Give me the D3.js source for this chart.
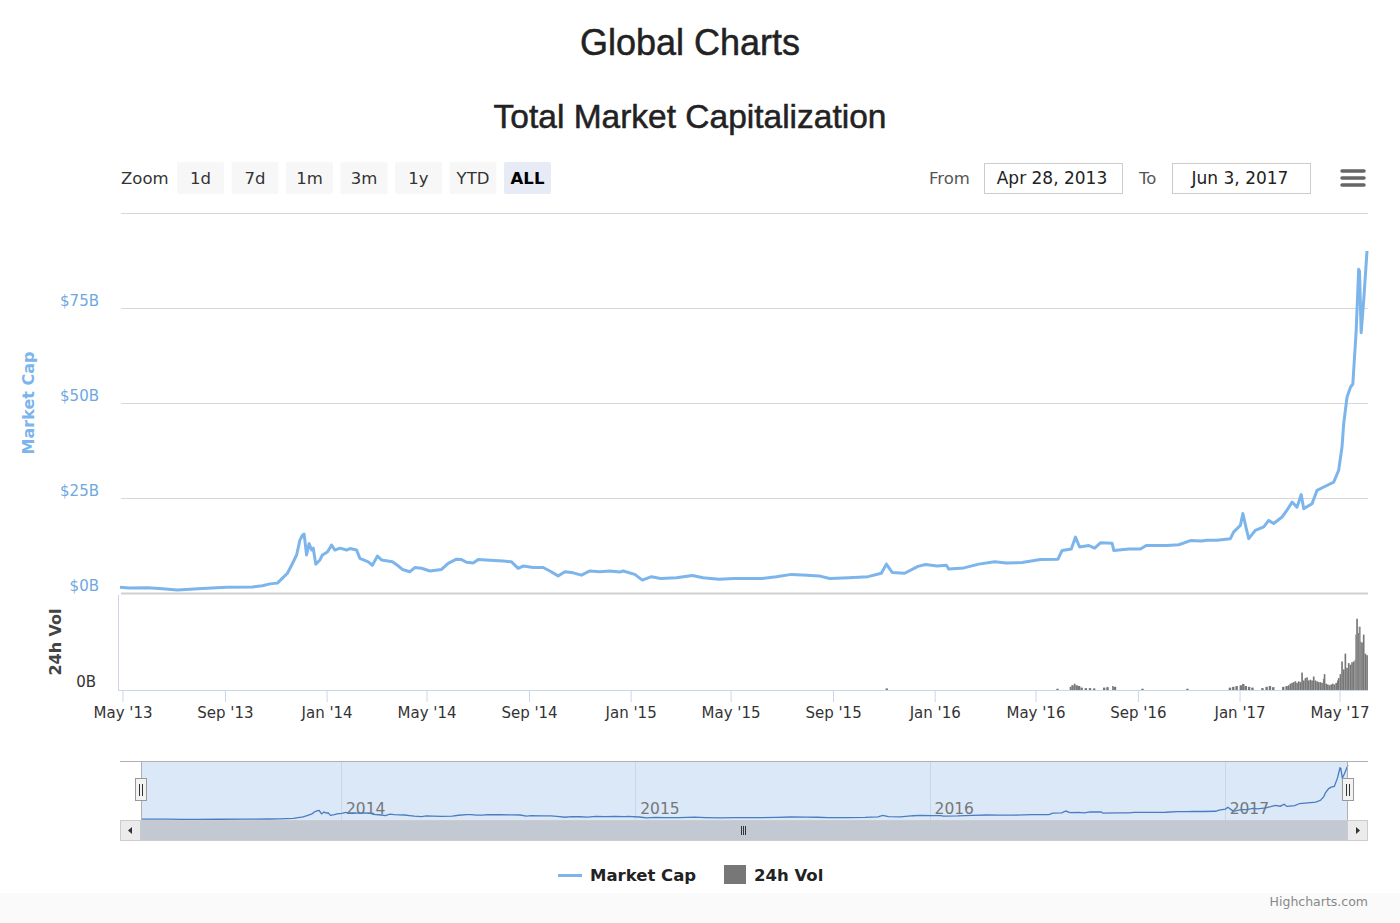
<!DOCTYPE html>
<meta charset="utf-8">
<style>
    body { margin: 0; background: #fff; }
    svg { display: block; font-family: "DejaVu Sans", Verdana, sans-serif; }
</style>

<svg width="1400" height="923"></svg>

<script src="https://d3js.org/d3.v7.min.js"></script>
<script>
    // market cap, billions USD
    var capDates = [
        "2013-04-28", "2013-05-09", "2013-05-31", "2013-06-18", "2013-07-06", "2013-08-05", "2013-09-03",
        "2013-10-04", "2013-10-16", "2013-10-25", "2013-11-03", "2013-11-09", "2013-11-15", "2013-11-20",
        "2013-11-26", "2013-11-30", "2013-12-03", "2013-12-05", "2013-12-08", "2013-12-11", "2013-12-14",
        "2013-12-16", "2013-12-19", "2013-12-24", "2013-12-27", "2014-01-02", "2014-01-07", "2014-01-11",
        "2014-01-17", "2014-01-25", "2014-01-29", "2014-02-06", "2014-02-10", "2014-02-20", "2014-02-25",
        "2014-03-03", "2014-03-08", "2014-03-21", "2014-03-27", "2014-04-02", "2014-04-11", "2014-04-17",
        "2014-04-25", "2014-05-05", "2014-05-19", "2014-05-27", "2014-06-06", "2014-06-12", "2014-06-18",
        "2014-06-26", "2014-07-02", "2014-07-16", "2014-08-01", "2014-08-11", "2014-08-19", "2014-08-25",
        "2014-09-06", "2014-09-18", "2014-09-26", "2014-10-06", "2014-10-14", "2014-10-24", "2014-11-03",
        "2014-11-13", "2014-11-25", "2014-12-07", "2014-12-19", "2014-12-23", "2015-01-06", "2015-01-15",
        "2015-01-26", "2015-02-06", "2015-02-25", "2015-03-16", "2015-03-29", "2015-04-17", "2015-05-05",
        "2015-06-07", "2015-06-25", "2015-07-13", "2015-08-01", "2015-08-15", "2015-08-28", "2015-09-20",
        "2015-10-13", "2015-10-29", "2015-11-04", "2015-11-11", "2015-11-26", "2015-12-12", "2015-12-21",
        "2016-01-04", "2016-01-15", "2016-01-18", "2016-02-05", "2016-02-23", "2016-03-13", "2016-03-27",
        "2016-04-15", "2016-05-07", "2016-05-28", "2016-06-02", "2016-06-13", "2016-06-18", "2016-06-23",
        "2016-07-04", "2016-07-11", "2016-07-18", "2016-08-01", "2016-08-03", "2016-08-21", "2016-09-04",
        "2016-09-11", "2016-10-06", "2016-10-20", "2016-11-03", "2016-11-16", "2016-11-23", "2016-12-05",
        "2016-12-21", "2016-12-25", "2017-01-02", "2017-01-05", "2017-01-09", "2017-01-12", "2017-01-20",
        "2017-01-30", "2017-02-05", "2017-02-11", "2017-02-21", "2017-02-27", "2017-03-05", "2017-03-11",
        "2017-03-16", "2017-03-19", "2017-03-29", "2017-04-04", "2017-04-14", "2017-04-24", "2017-04-30",
        "2017-05-04", "2017-05-06", "2017-05-10", "2017-05-14", "2017-05-17", "2017-05-21", "2017-05-24",
        "2017-05-25", "2017-05-27", "2017-05-30", "2017-06-03"
    ];
    var capValues = [
        1.5, 1.3, 1.4, 1.1, 0.8, 1.2, 1.5,
        1.6, 1.9, 2.4, 2.6, 3.9, 5.2, 7.3,
        10.0, 13.9, 15.2, 15.5, 10.0, 13.0, 11.3,
        11.8, 7.6, 8.7, 10.0, 10.8, 12.6, 11.3,
        11.8, 11.3, 11.7, 11.3, 9.1, 8.2, 7.3,
        9.7, 8.7, 8.2, 7.3, 6.2, 5.6, 6.7,
        6.5, 5.8, 6.2, 7.8, 8.9, 8.8, 8.1,
        7.9, 8.8, 8.6, 8.4, 8.2, 6.5, 7.1,
        6.7, 6.7, 5.8, 4.5, 5.6, 5.3, 4.7,
        5.8, 5.6, 5.8, 5.5, 5.8, 4.9, 3.4,
        4.3, 3.8, 4.0, 4.6, 4.0, 3.6, 3.8,
        3.8, 4.3, 4.9, 4.7, 4.5, 3.8, 4.0,
        4.3, 5.2, 7.6, 5.4, 5.2, 7.0, 7.5,
        7.1, 7.3, 6.3, 6.6, 7.6, 8.2, 7.9,
        8.0, 8.8, 8.9, 11.2, 11.6, 14.7, 12.1,
        12.5, 11.8, 13.2, 13.1, 11.2, 11.6, 11.6,
        12.5, 12.5, 12.7, 13.8, 13.7, 13.9, 13.9,
        14.3, 16.1, 17.8, 20.9, 17.0, 14.3, 16.5,
        17.4, 19.1, 18.3, 20.0, 21.8, 23.9, 22.6,
        25.9, 22.2, 23.5, 27.0, 28.1, 29.2, 32.3,
        38.4, 44.5, 51.5, 54.1, 55.0, 69.0, 85.2,
        84.7, 68.5, 76.9, 90.0
    ];

    // 24h volume, billions USD
    var volDates = [
        "2015-11-04", "2016-05-27", "2016-06-12", "2016-06-14", "2016-06-17", "2016-06-19", "2016-06-22",
        "2016-06-25", "2016-06-30", "2016-07-05", "2016-07-10", "2016-07-22", "2016-07-26", "2016-08-02",
        "2016-08-04", "2016-09-06", "2016-10-30", "2016-12-20", "2016-12-24", "2016-12-28", "2017-01-02",
        "2017-01-05", "2017-01-08", "2017-01-12", "2017-01-16", "2017-01-28", "2017-02-02", "2017-02-06",
        "2017-02-10", "2017-02-22", "2017-02-26", "2017-03-01", "2017-03-03", "2017-03-05", "2017-03-07",
        "2017-03-09", "2017-03-11", "2017-03-13", "2017-03-15", "2017-03-17", "2017-03-19", "2017-03-21",
        "2017-03-23", "2017-03-25", "2017-03-27", "2017-03-29", "2017-03-31", "2017-04-02", "2017-04-04",
        "2017-04-06", "2017-04-08", "2017-04-10", "2017-04-12", "2017-04-13", "2017-04-15", "2017-04-17",
        "2017-04-19", "2017-04-21", "2017-04-23", "2017-04-25", "2017-04-27", "2017-04-29", "2017-04-30",
        "2017-05-02", "2017-05-04", "2017-05-06", "2017-05-08", "2017-05-10", "2017-05-12", "2017-05-14",
        "2017-05-16", "2017-05-18", "2017-05-20", "2017-05-21", "2017-05-22", "2017-05-24", "2017-05-25",
        "2017-05-26", "2017-05-27", "2017-05-28", "2017-05-30", "2017-06-01", "2017-06-03"
    ];
    var volValues = [
        0.1, 0.08, 0.2, 0.3, 0.4, 0.3, 0.25,
        0.15, 0.12, 0.12, 0.1, 0.15, 0.18, 0.25,
        0.2, 0.08, 0.08, 0.15, 0.2, 0.25, 0.3,
        0.38, 0.25, 0.2, 0.15, 0.12, 0.2, 0.25,
        0.18, 0.2, 0.25, 0.3, 0.4, 0.45, 0.5,
        0.55, 0.45, 0.55, 0.5, 1.1, 0.6, 0.75,
        0.8, 0.6, 0.65, 0.6, 0.85, 0.6, 0.55,
        0.5, 0.5, 0.45, 0.7, 1.0, 0.4, 0.35,
        0.3, 0.35, 0.4, 0.35, 0.45, 0.6, 0.75,
        1.0, 1.8, 1.3, 2.3, 1.4, 1.7, 1.6,
        1.75, 1.8, 1.9, 3.5, 4.5, 3.6, 4.0,
        4.0, 3.05, 3.0, 3.5, 2.3, 2.2
    ];

    var capTicks = [0, 25, 50, 75, 100];
    var zoomButtons = ["1d", "7d", "1m", "3m", "1y", "YTD", "ALL"];
    var rangeStart = "2013-04-28", rangeEnd = "2017-06-03";
    var fromText = "Apr 28, 2013", toText = "Jun 3, 2017";
    var legendItems = ["Market Cap", "24h Vol"];

    (function () {
        var svg = d3.select("svg"),
            parse = d3.timeParse("%Y-%m-%d"),
            capColor = "#7cb5ec",
            volColor = "#777777",
            axisColor = "#ccd6eb",
            gridColor = "#d8d8d8";

        var cap = capDates.map(function (d, i) { return {date: parse(d), value: capValues[i]}; }),
            vol = volDates.map(function (d, i) { return {date: parse(d), value: volValues[i]}; }),
            domain = [parse(rangeStart), parse(rangeEnd)];

        var x = d3.scaleTime().domain(domain).range([120, 1367]),
            yCap = d3.scaleLinear().domain([0, 100]).range([593, 213]),
            yVol = d3.scaleLinear().domain([0, 6]).range([690, 595]),
            xNav = d3.scaleTime().domain(domain).range([141, 1348]),
            yNav = d3.scaleLinear().domain([0, 95]).range([820, 762]);

        // titles
        var titleFont = "'Liberation Sans', Arial, sans-serif";
        svg.append("text")
            .attr("x", 690).attr("y", 55)
            .attr("text-anchor", "middle")
            .style("font-family", titleFont)
            .style("font-size", "36px")
            .attr("fill", "#222").attr("stroke", "#222").attr("stroke-width", 0.5)
            .text("Global Charts");
        svg.append("text")
            .attr("x", 690).attr("y", 128)
            .attr("text-anchor", "middle")
            .style("font-family", titleFont)
            .style("font-size", "33.5px")
            .attr("fill", "#222").attr("stroke", "#222").attr("stroke-width", 0.5)
            .text("Total Market Capitalization");

        // range selector
        var sel = svg.append("g").style("font-size", "16.5px").attr("fill", "#333");
        sel.append("text").attr("x", 121).attr("y", 184).text("Zoom");
        var btn = sel.selectAll("g.btn")
            .data(zoomButtons)
            .enter().append("g")
            .attr("class", "btn")
            .attr("transform", function (d, i) { return "translate(" + (177 + i * 54.5) + ",162)"; });
        btn.append("rect")
            .attr("width", 47).attr("height", 32).attr("rx", 2)
            .attr("fill", function (d) { return d === "ALL" ? "#e6ebf5" : "#f7f7f7"; });
        btn.append("text")
            .attr("x", 23.5).attr("y", 22)
            .attr("text-anchor", "middle")
            .attr("fill", function (d) { return d === "ALL" ? "#000" : "#333"; })
            .style("font-weight", function (d) { return d === "ALL" ? "bold" : "normal"; })
            .text(function (d) { return d; });

        sel.append("text").attr("x", 929).attr("y", 184).attr("fill", "#555").text("From");
        sel.append("rect").attr("x", 984.5).attr("y", 163.5).attr("width", 138).attr("height", 30)
            .attr("fill", "#fff").attr("stroke", "#ccc");
        sel.append("text").attr("x", 1052).attr("y", 184).attr("text-anchor", "middle")
            .style("font-size", "17px").attr("fill", "#222").text(fromText);
        sel.append("text").attr("x", 1139).attr("y", 184).attr("fill", "#555").text("To");
        sel.append("rect").attr("x", 1172.5).attr("y", 163.5).attr("width", 138).attr("height", 30)
            .attr("fill", "#fff").attr("stroke", "#ccc");
        sel.append("text").attr("x", 1240).attr("y", 184).attr("text-anchor", "middle")
            .style("font-size", "17px").attr("fill", "#222").text(toText);

        // export menu icon
        [171, 178, 185].forEach(function (yy) {
            svg.append("line")
                .attr("x1", 1342).attr("x2", 1364).attr("y1", yy).attr("y2", yy)
                .attr("stroke", "#666").attr("stroke-width", 3.5).attr("stroke-linecap", "round");
        });

        // market cap grid and labels
        var grid = svg.append("g");
        grid.selectAll("line")
            .data(capTicks)
            .enter().append("line")
            .attr("x1", 121).attr("x2", 1368)
            .attr("y1", function (d) { return Math.round(yCap(d)) + 0.5; })
            .attr("y2", function (d) { return Math.round(yCap(d)) + 0.5; })
            .attr("stroke", function (d) { return d === 0 ? "#d0d0d0" : gridColor; })
            .attr("stroke-width", function (d) { return d === 0 ? 2 : 1; });
        grid.selectAll("text")
            .data(capTicks.filter(function (d) { return d < 100; }))
            .enter().append("text")
            .attr("x", 99)
            .attr("y", function (d) { return yCap(d) - 2.5; })
            .attr("text-anchor", "end")
            .attr("fill", "#6ea8e2")
            .style("font-size", "15px")
            .text(function (d) { return "$" + d + "B"; });

        svg.append("text")
            .attr("transform", "translate(34,403) rotate(-90)")
            .attr("text-anchor", "middle")
            .attr("fill", capColor)
            .style("font-size", "16px")
            .style("font-weight", "bold")
            .text("Market Cap");

        // volume pane
        svg.append("line")
            .attr("x1", 118.5).attr("x2", 118.5).attr("y1", 595).attr("y2", 690)
            .attr("stroke", axisColor);
        svg.append("text")
            .attr("x", 96).attr("y", 687)
            .attr("text-anchor", "end")
            .attr("fill", "#333")
            .style("font-size", "15px")
            .text("0B");
        svg.append("text")
            .attr("transform", "translate(61,642) rotate(-90)")
            .attr("text-anchor", "middle")
            .attr("fill", "#444")
            .style("font-size", "16px")
            .style("font-weight", "bold")
            .text("24h Vol");

        svg.append("g").selectAll("rect")
            .data(vol)
            .enter().append("rect")
            .attr("x", function (d) { return x(d.date) - 0.8; })
            .attr("y", function (d) { return yVol(d.value); })
            .attr("width", function (d, i) {
                var next = vol[i + 1];
                var gap = next ? x(next.date) - x(d.date) : 1.7;
                return Math.max(1, Math.min(gap, 2.4));
            })
            .attr("height", function (d) { return yVol(0) - yVol(d.value); })
            .attr("fill", volColor);

        // market cap line
        var line = d3.line()
            .x(function (d) { return x(d.date); })
            .y(function (d) { return yCap(d.value); });
        svg.append("path")
            .datum(cap)
            .attr("d", line)
            .attr("fill", "none")
            .attr("stroke", capColor)
            .attr("stroke-width", 3)
            .attr("stroke-linejoin", "round");

        // x axis
        var xAxis = svg.append("g")
            .attr("transform", "translate(0,690)")
            .call(d3.axisBottom(x)
                .ticks(d3.timeMonth.every(4))
                .tickFormat(d3.timeFormat("%b '%y"))
                .tickSize(12)
                .tickSizeOuter(0)
                .tickPadding(5));
        xAxis.select(".domain").attr("stroke", axisColor).attr("d", "M118,0.5H1368");
        xAxis.selectAll(".tick line").attr("stroke", axisColor);
        xAxis.selectAll(".tick text")
            .attr("fill", "#333")
            .style("font-size", "15px")
            .style("font-family", "'DejaVu Sans', Verdana, sans-serif");

        // navigator
        var nav = svg.append("g");
        nav.append("rect")
            .attr("x", xNav.range()[0]).attr("y", 761)
            .attr("width", xNav.range()[1] - xNav.range()[0]).attr("height", 59)
            .attr("fill", "#dae8f8");
        nav.selectAll("line.grid")
            .data(xNav.ticks(d3.timeYear.every(1)))
            .enter().append("line")
            .attr("x1", function (d) { return Math.round(xNav(d)) + 0.5; })
            .attr("x2", function (d) { return Math.round(xNav(d)) + 0.5; })
            .attr("y1", 761).attr("y2", 820)
            .attr("stroke", "#c9d6e6");
        nav.selectAll("text")
            .data(xNav.ticks(d3.timeYear.every(1)))
            .enter().append("text")
            .attr("x", function (d) { return xNav(d) + 5; })
            .attr("y", 814)
            .attr("fill", "#777")
            .style("font-size", "15.5px")
            .text(d3.timeFormat("%Y"));
        var navLine = d3.line()
            .x(function (d) { return xNav(d.date); })
            .y(function (d) { return yNav(d.value); });
        nav.append("path")
            .datum(cap)
            .attr("d", navLine)
            .attr("fill", "none")
            .attr("stroke", "#4a7cc0")
            .attr("stroke-width", 1.3);

        // navigator outline
        nav.append("path")
            .attr("d", "M120,761.5H1368M141.5,761V820M1347.5,761V820")
            .attr("fill", "none")
            .attr("stroke", "#b0b0b0");

        // handles
        [xNav.range()[0], xNav.range()[1]].forEach(function (hx) {
            var h = nav.append("g").attr("transform", "translate(" + hx + ",790)");
            h.append("rect")
                .attr("x", -5.5).attr("y", -11.5).attr("width", 11).attr("height", 22)
                .attr("fill", "#f2f2f2").attr("stroke", "#999");
            h.append("path")
                .attr("d", "M-1.5,-6V6M1.5,-6V6")
                .attr("stroke", "#333").attr("stroke-width", 1);
        });

        // scrollbar
        var sb = svg.append("g");
        sb.append("rect").attr("x", 120.5).attr("y", 820.5).attr("width", 1247).attr("height", 20)
            .attr("fill", "#f2f2f2").attr("stroke", "#ccc");
        sb.append("rect").attr("x", 141).attr("y", 821).attr("width", 1207).attr("height", 19)
            .attr("fill", "#c2c9d2");
        sb.append("path").attr("d", "M741.5,826V835M743.5,826V835M745.5,826V835")
            .attr("stroke", "#333");
        sb.append("rect").attr("x", 120.5).attr("y", 820.5).attr("width", 20).attr("height", 20)
            .attr("fill", "#ebebeb").attr("stroke", "#ccc");
        sb.append("rect").attr("x", 1347.5).attr("y", 820.5).attr("width", 20).attr("height", 20)
            .attr("fill", "#ebebeb").attr("stroke", "#ccc");
        sb.append("path").attr("d", "M132,827L128,830.5L132,834Z").attr("fill", "#333");
        sb.append("path").attr("d", "M1356,827L1360,830.5L1356,834Z").attr("fill", "#333");

        // legend
        var lg = svg.append("g").style("font-size", "16.5px").style("font-weight", "bold").attr("fill", "#222");
        lg.append("line").attr("x1", 558).attr("x2", 582).attr("y1", 875.5).attr("y2", 875.5)
            .attr("stroke", capColor).attr("stroke-width", 3);
        lg.append("text").attr("x", 590).attr("y", 881).text(legendItems[0]);
        lg.append("rect").attr("x", 724).attr("y", 865).attr("width", 22).attr("height", 19)
            .attr("fill", volColor);
        lg.append("text").attr("x", 754).attr("y", 881).text(legendItems[1]);

        // credits band
        svg.append("rect").attr("x", 0).attr("y", 893).attr("width", 1400).attr("height", 30)
            .attr("fill", "#fafafa");
        svg.append("text")
            .attr("x", 1368).attr("y", 906)
            .attr("text-anchor", "end")
            .attr("fill", "#888")
            .style("font-size", "12.5px")
            .text("Highcharts.com");
    })();
</script>
